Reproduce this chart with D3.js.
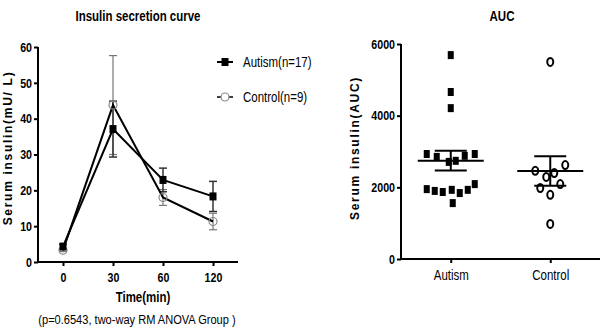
<!DOCTYPE html>
<html>
<head>
<meta charset="utf-8">
<script src="https://cdn.jsdelivr.net/npm/d3@7"></script>
<style>
  body { margin: 0; background: #fff; }
  text { font-family: "Liberation Sans", Arial, sans-serif; fill: #000; }
  .title { font-size: 14px; font-weight: bold; }
  .tick text { font-size: 13px; font-weight: bold; }
  .ylab { font-size: 12px; font-weight: bold; letter-spacing: 1.7px; }
</style>
</head>
<body>
<script>
// insulin curve: mean and SEM per time point
const times = ["0", "30", "60", "120"];
const autismMean = [4.3, 37.1, 22.9, 18.3];
const autismSem = [0.6, 7.8, 3.3, 4.2];
const controlMean = [3.3, 43.8, 18.0, 11.3];
const controlSem = [0.4, 13.8, 2.2, 2.3];
const curveTicks = [0, 10, 20, 30, 40, 50, 60];

// area under curve, individual subjects
const groups = ["Autism", "Control"];
const aucAutism = [5690, 4660, 4210, 2930, 2850, 2710, 2740, 2880, 2930,
                   1950, 1900, 1870, 1930, 1560, 1840, 1930, 2090];
const aucControl = [2460, 2290, 2400, 2620, 1980, 1790, 2090, 980, 5500];
const aucTicks = [0, 2000, 4000, 6000];

const width = 608, height = 334;

const svg = d3.select("body").append("svg")
    .attr("width", width)
    .attr("height", height);

// squeeze text horizontally to get a narrow face
const K = 0.82;
function narrow(sel) {
    sel.each(function () {
        const t = d3.select(this);
        const xv = +t.attr("x") || 0;
        t.attr("x", xv / K).attr("transform", `scale(${K},1)`);
    });
    return sel;
}

// ---------- left: insulin secretion curve ----------
const x = d3.scalePoint().domain(times).range([38, 238]).padding(0.5);
const y = d3.scaleLinear().domain([0, 60]).range([262, 47]);

const gL = svg.append("g");

gL.append("g")
    .attr("transform", "translate(38,0)")
    .call(d3.axisLeft(y).tickValues(curveTicks).tickSize(4).tickPadding(2))
    .call(g => g.select(".domain").attr("stroke-width", 2).attr("d", "M0,47V262"))
    .call(g => g.selectAll(".tick line").attr("stroke-width", 2))
    .call(g => narrow(g.selectAll(".tick text")));

gL.append("g")
    .attr("transform", "translate(0,262)")
    .call(d3.axisBottom(x).tickSize(4).tickPadding(7))
    .call(g => g.select(".domain").attr("stroke-width", 2).attr("d", "M38,0H238"))
    .call(g => g.selectAll(".tick line").attr("stroke-width", 2))
    .call(g => narrow(g.selectAll(".tick text")));

const line = d3.line().x((d, i) => x(times[i])).y(d => y(d));

function errorBars(means, sems, colour, sw) {
    const g = gL.append("g").attr("stroke", colour).attr("stroke-width", sw);
    means.forEach((m, i) => {
        const cx = x(times[i]);
        const lo = y(m - sems[i]), hi = y(m + sems[i]);
        g.append("line").attr("x1", cx).attr("x2", cx).attr("y1", lo).attr("y2", hi);
        g.append("line").attr("x1", cx - 4).attr("x2", cx + 4).attr("y1", lo).attr("y2", lo);
        g.append("line").attr("x1", cx - 4).attr("x2", cx + 4).attr("y1", hi).attr("y2", hi);
    });
}

errorBars(controlMean, controlSem, "#777", 1.2);
errorBars(autismMean, autismSem, "#333", 1.5);

gL.append("path").datum(controlMean)
    .attr("d", line).attr("fill", "none").attr("stroke", "#000").attr("stroke-width", 2);
gL.append("path").datum(autismMean)
    .attr("d", line).attr("fill", "none").attr("stroke", "#000").attr("stroke-width", 2);

gL.selectAll(".ctrl").data(controlMean).join("circle")
    .attr("cx", (d, i) => x(times[i]))
    .attr("cy", d => y(d))
    .attr("r", 4)
    .attr("fill", "none")
    .attr("stroke", "#888")
    .attr("stroke-width", 1.2);

gL.selectAll(".aut").data(autismMean).join("rect")
    .attr("x", (d, i) => x(times[i]) - 3.5)
    .attr("y", d => y(d) - 4)
    .attr("width", 7)
    .attr("height", 8)
    .attr("fill", "#000");

// legend
const leg = gL.append("g");
leg.append("line").attr("x1", 217).attr("x2", 233).attr("y1", 62).attr("y2", 62)
    .attr("stroke", "#000").attr("stroke-width", 2);
leg.append("rect").attr("x", 221.5).attr("y", 58).attr("width", 7).attr("height", 8).attr("fill", "#000");
leg.append("text").attr("x", 243).attr("y", 67).attr("font-size", 14).text("Autism(n=17)").call(narrow);
leg.append("line").attr("x1", 217).attr("x2", 233).attr("y1", 97).attr("y2", 97)
    .attr("stroke", "#000").attr("stroke-width", 1.5);
leg.append("circle").attr("cx", 225).attr("cy", 97).attr("r", 4)
    .attr("fill", "#fff").attr("stroke", "#888").attr("stroke-width", 1.2);
leg.append("text").attr("x", 243).attr("y", 102).attr("font-size", 14).text("Control(n=9)").call(narrow);

gL.append("text").attr("class", "title").attr("x", 138).attr("y", 21)
    .attr("text-anchor", "middle").text("Insulin secretion curve").call(narrow);
gL.append("text").attr("class", "ylab")
    .attr("transform", "translate(12,148) rotate(-90)")
    .attr("text-anchor", "middle").text("Serum insulin(mU/ L)");
gL.append("text").attr("x", 143).attr("y", 302).attr("text-anchor", "middle")
    .attr("font-size", 14).attr("font-weight", "bold").text("Time(min)").call(narrow);
gL.append("text").attr("x", 137).attr("y", 324).attr("text-anchor", "middle")
    .attr("font-size", 13.5).text("(p=0.6543, two-way RM ANOVA Group )").call(narrow);

// ---------- right: AUC scatter ----------
const x2 = d3.scalePoint().domain(groups).range([401, 600]).padding(0.5);
const y2 = d3.scaleLinear().domain([0, 6000]).range([259, 44]);

const gR = svg.append("g");

gR.append("g")
    .attr("transform", "translate(401,0)")
    .call(d3.axisLeft(y2).tickValues(aucTicks).tickFormat(d3.format("d")).tickSize(4).tickPadding(2))
    .call(g => g.select(".domain").attr("stroke-width", 2).attr("d", "M0,44V259"))
    .call(g => g.selectAll(".tick line").attr("stroke-width", 2))
    .call(g => narrow(g.selectAll(".tick text")));

gR.append("g")
    .attr("transform", "translate(0,259)")
    .call(d3.axisBottom(x2).tickSize(4).tickPadding(7))
    .call(g => g.select(".domain").attr("stroke-width", 2).attr("d", "M401,0H600"))
    .call(g => g.selectAll(".tick line").attr("stroke-width", 2))
    .call(g => g.selectAll(".tick text").style("font-weight", "normal").style("font-size", "14px"))
    .call(g => narrow(g.selectAll(".tick text")));

// horizontal spread of points within each group
const autismJitter = [0, 0, 0, -24, -14, -2, 5, 14, 24, -24, -16, -8, 1, 2, 9, 17, 24];
const controlJitter = [-15, -4, 4, 15, -10, 0, 10, 0, 0];

gR.selectAll(".aucA").data(aucAutism).join("rect")
    .attr("x", (d, i) => x2("Autism") + autismJitter[i] - 3)
    .attr("y", d => y2(d) - 4)
    .attr("width", 6)
    .attr("height", 8)
    .attr("fill", "#000");

gR.selectAll(".aucC").data(aucControl).join("ellipse")
    .attr("cx", (d, i) => x2("Control") + controlJitter[i])
    .attr("cy", d => y2(d))
    .attr("rx", 3)
    .attr("ry", 4)
    .attr("fill", "none")
    .attr("stroke", "#000")
    .attr("stroke-width", 2);

// mean and SEM bars
function meanSem(vals, grp) {
    const m = d3.mean(vals);
    const sem = d3.deviation(vals) / Math.sqrt(vals.length);
    const cx = x2(grp);
    const g = gR.append("g").attr("stroke", "#000").attr("stroke-width", 2);
    g.append("line").attr("x1", cx - 33).attr("x2", cx + 33).attr("y1", y2(m)).attr("y2", y2(m));
    g.append("line").attr("x1", cx).attr("x2", cx).attr("y1", y2(m - sem)).attr("y2", y2(m + sem));
    g.append("line").attr("x1", cx - 16).attr("x2", cx + 16).attr("y1", y2(m + sem)).attr("y2", y2(m + sem));
    g.append("line").attr("x1", cx - 16).attr("x2", cx + 16).attr("y1", y2(m - sem)).attr("y2", y2(m - sem));
}
meanSem(aucAutism, "Autism");
meanSem(aucControl, "Control");

gR.append("text").attr("class", "title").attr("x", 502).attr("y", 21)
    .attr("text-anchor", "middle").text("AUC").call(narrow);
gR.append("text").attr("class", "ylab")
    .attr("transform", "translate(359,148) rotate(-90)")
    .attr("text-anchor", "middle").text("Serum insulin(AUC)");
</script>
</body>
</html>
